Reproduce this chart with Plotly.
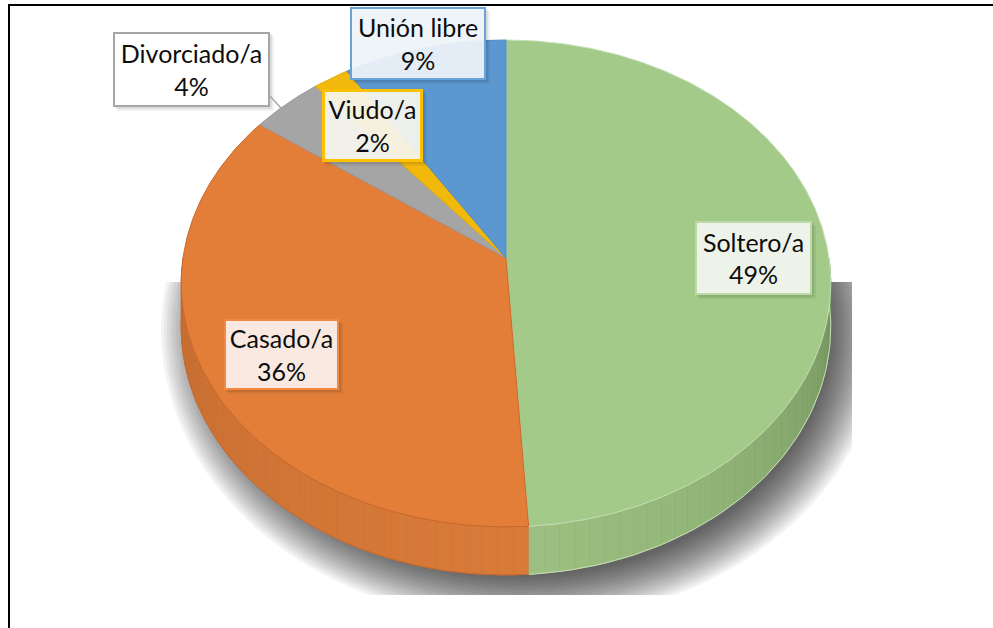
import numpy as np
import plotly.graph_objects as go

# ---------------- data ----------------
categories = ["Soltero/a", "Casado/a", "Divorciado/a", "Viudo/a", "Unión libre"]
percentages = [49, 36, 4, 2, 9]

# ---------------- styles ----------------
top_colors = ["#A3CA88", "#E27E38", "#A5A5A5", "#F2B90D", "#5B98D0"]
edge_colors = ["#C8E0B8", "#C9682C", "#999999", "#E3AA06", "#5089C2"]
wall_light = [(158, 193, 130), (216, 123, 57), (150, 150, 150), (220, 168, 10), (80, 135, 188)]
wall_dark = [(92, 124, 74), (185, 98, 40), (110, 110, 110), (170, 130, 5), (55, 95, 140)]

label_centers = [(753.5, 258), (281.5, 354.5), (191.5, 69.5), (372.5, 125.5), (418, 43.5)]
label_sizes = [(117, 74), (115, 71), (157, 75), (101, 73), (136, 73)]
label_fill = ["rgba(242,247,239,0.95)", "rgba(251,238,231,0.96)", "rgba(255,255,255,0.98)",
              "rgba(249,247,240,0.93)", "rgba(240,245,251,0.93)"]
label_border = ["#BCD9A8", "#F08A42", "#A6A6A6", "#FFC000", "#6AA3D9"]
label_bw = [2, 2, 2, 3, 2]

FONT = "Lato, Carlito, Calibri, sans-serif"

# perspective geometry of the pie (pixel-like coordinates)
CX, CY = 506.0, 258.0
RW, RS, K, H = 323.0, 240.8, 0.1045, 43.0


def rim(phi):
    p = np.radians(np.asarray(phi, dtype=float))
    d = 1 + K * np.cos(p)
    return CX + RW * np.sin(p) / d, CY - RS * np.cos(p) / d, H / d


def rgb(c):
    return "rgb(%d,%d,%d)" % tuple(int(round(v)) for v in c)


total = float(sum(percentages))
bounds = np.concatenate([[0.0], np.cumsum(percentages) / total * 360.0])

fig = go.Figure()

# ---------------- soft drop shadow (clipped to plot area) ----------------
SX, SY, SRX, SRY = 522.0, 330.0, 320.0, 256.0
tt = np.linspace(0, 2 * np.pi, 180)
for e in np.arange(-10, 42, 3):
    fig.add_trace(go.Scatter(
        x=SX + (SRX + e) * np.cos(tt), y=SY + (SRY + e * 0.9) * np.sin(tt),
        mode="lines", fill="toself", fillcolor="rgba(0,0,0,0.048)",
        line=dict(width=0), hoverinfo="skip", showlegend=False,
        xaxis="x", yaxis="y"))

# ---------------- side walls ----------------
for i, cat in enumerate(categories):
    a0, a1 = bounds[i], bounds[i + 1]
    lo, hi = max(a0, 90.0), min(a1, 270.0)
    if lo >= hi:
        continue
    nseg = int(np.ceil((hi - lo) / 2.5))
    edges = np.linspace(lo, hi, nseg + 1)
    for s0, s1 in zip(edges[:-1], edges[1:]):
        ph = np.linspace(s0, s1, 6)
        x, y, h = rim(ph)
        mid = 0.5 * (s0 + s1)
        t = max(0.0, 1 - abs(mid - 180.0) / 90.0) ** 0.45
        col = [wall_dark[i][c] + (wall_light[i][c] - wall_dark[i][c]) * t for c in range(3)]
        fig.add_trace(go.Scatter(
            x=np.concatenate([x, x[::-1]]), y=np.concatenate([y, (y + h)[::-1]]),
            mode="lines", fill="toself", fillcolor=rgb(col),
            line=dict(width=0.8, color=rgb(col)), hoverinfo="skip", showlegend=False,
            xaxis="x2", yaxis="y2"))
    ph = np.linspace(lo, hi, 80)
    x, y, h = rim(ph)
    fig.add_trace(go.Scatter(x=x, y=y + h, mode="lines",
                             line=dict(width=1, color=edge_colors[i]),
                             hoverinfo="skip", showlegend=False, xaxis="x2", yaxis="y2"))

# ---------------- top faces ----------------
for i, cat in enumerate(categories):
    a0, a1 = bounds[i], bounds[i + 1]
    n = max(10, int((a1 - a0) * 2))
    x, y, _ = rim(np.linspace(a0, a1, n))
    fig.add_trace(go.Scatter(
        x=np.concatenate([[CX], x, [CX]]), y=np.concatenate([[CY], y, [CY]]),
        mode="lines", fill="toself", fillcolor=top_colors[i],
        line=dict(width=1, color=edge_colors[i]),
        name=cat, text=f"{cat}: {percentages[i]}%", hoverinfo="text",
        showlegend=False, xaxis="x2", yaxis="y2"))

# ---------------- labels ----------------
shapes = []
annotations = []
for i, cat in enumerate(categories):
    cx, cy = label_centers[i]
    w, h = label_sizes[i]
    bw = label_bw[i]
    for off, a in [(4, 0.06), (2, 0.08)]:
        shapes.append(dict(type="rect", xref="x2", yref="y2",
                           x0=cx - w / 2 + off, x1=cx + w / 2 + off,
                           y0=cy - h / 2 + off, y1=cy + h / 2 + off,
                           line=dict(width=0), fillcolor=f"rgba(0,0,0,{a})", layer="above"))
    annotations.append(dict(
        xref="x2", yref="y2", x=cx, y=cy, xanchor="center", yanchor="middle",
        text=f"{cat}<br>{percentages[i]}%", showarrow=False,
        width=w - 2 * bw, height=h - 2 * bw, borderpad=0,
        bgcolor=label_fill[i], bordercolor=label_border[i], borderwidth=bw,
        align="center", valign="middle",
        font=dict(family=FONT, size=25, color="#0D0D0D")))

# leader line for Divorciado/a
shapes.append(dict(type="line", xref="x2", yref="y2", x0=268, y0=94, x1=281, y1=108,
                   line=dict(color="#A6A6A6", width=1.5), layer="above"))
# chart border
shapes.append(dict(type="rect", xref="x2", yref="y2", x0=9, y0=5, x1=1200, y1=900,
                   line=dict(color="#000000", width=2), fillcolor="rgba(0,0,0,0)", layer="above"))

fig.update_layout(
    width=993, height=628,
    margin=dict(l=0, r=0, t=0, b=0),
    paper_bgcolor="white", plot_bgcolor="rgba(0,0,0,0)",
    showlegend=False,
    xaxis=dict(domain=[160 / 993, 852 / 993], range=[160, 852], visible=False,
               anchor="y", fixedrange=True),
    yaxis=dict(domain=[(628 - 595) / 628, (628 - 282) / 628], range=[595, 282], visible=False,
               anchor="x", fixedrange=True),
    xaxis2=dict(domain=[0, 1], range=[0, 993], visible=False, anchor="y2", fixedrange=True),
    yaxis2=dict(domain=[0, 1], range=[628, 0], visible=False, anchor="x2", fixedrange=True),
    shapes=shapes, annotations=annotations,
    font=dict(family=FONT),
)

fig.write_html("out.html", config={"displayModeBar": False},
               post_script="document.body.style.margin='0';document.body.style.overflow='hidden';")
